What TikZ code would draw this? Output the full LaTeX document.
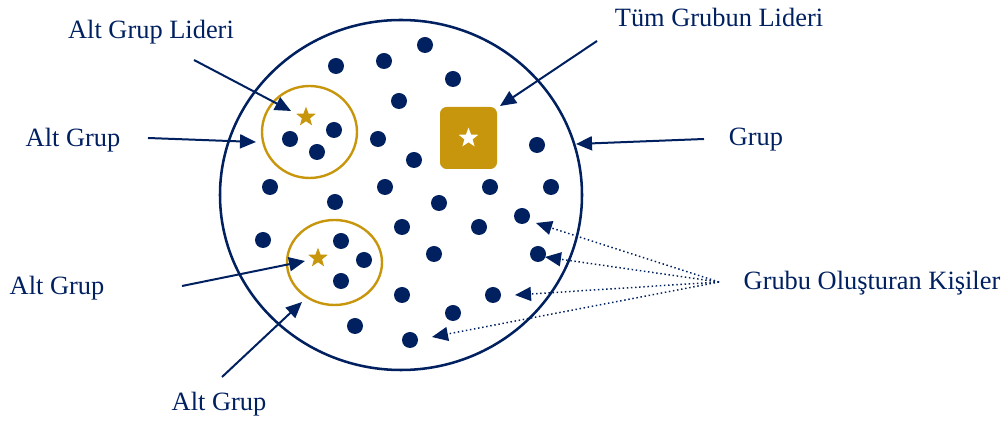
\documentclass[tikz,border=0pt]{standalone}
\usepackage{fontspec}
\setmainfont{Liberation Serif}
\usetikzlibrary{arrows.meta,shapes.geometric}
\definecolor{navy}{HTML}{002060}
\definecolor{gold}{HTML}{C8960C}
\tikzset{
  lbl/.style={text=navy,font=\fontsize{19.8}{24}\selectfont,inner sep=0pt},
  pointer/.style={draw=navy,line width=1.5pt,-{Triangle[length=12pt,width=10.5pt]}},
  dotpointer/.style={draw=navy,line width=1.1pt,dotted,-{Triangle[length=12pt,width=10.5pt]}},
  leaderstar/.style={star,star points=5,star point ratio=2.4,minimum size=15.5pt,inner sep=0pt}
}
\begin{document}
\begin{tikzpicture}[x=0.75pt,y=-0.75pt]
\useasboundingbox (0,0) rectangle (1008,423);
\draw[navy,line width=1.9pt] (401,195) ellipse [x radius=181,y radius=175];
\draw[gold,line width=1.8pt] (309.5,132) ellipse [x radius=47.5,y radius=46];
\draw[gold,line width=1.8pt] (334.5,262.5) ellipse [x radius=47.5,y radius=42.5];
\foreach \p in {(290,139),(334,130),(317,152),(341,241),(364,260),(341,281),
  (425,45),(384,61),(336,66),(453,79),(399,101),(378,139),(537,145),(414,160),
  (270,187),(385,187),(335,202),(439,203),(490,187),(551,187),(522,216),
  (402,227),(479,227),(263,240),(538,254),(434,254),(493,295),(402,295),
  (453,313),(355,326),(410,340)}
  \fill[navy] \p circle (6pt);
\node[fill=gold,rounded corners=5pt,minimum width=42.75pt,minimum height=46.5pt] (lider) at (468.5,138) {};
\node[leaderstar,fill=white] (lstar) at (lider) {};
\node[leaderstar,fill=gold] (s1) at (306,117) {};
\node[leaderstar,fill=gold] (s2) at (318,258) {};
\node[lbl] (tAGL) at (151,32) {Alt Grup Lideri};
\node[lbl] (tAG1) at (73,140) {Alt Grup};
\node[lbl] (tAG2) at (57,288) {Alt Grup};
\node[lbl] (tAG3) at (219,404) {Alt Grup};
\node[lbl] (tTGL) at (719,17) {Tüm Grubun Lideri};
\node[lbl] (tG) at (756,140) {Grup};
\node[lbl] (tK) at (872,283) {Grubu Oluşturan Kişiler};
\coordinate (a1) at (194,60);
\coordinate (b1) at (291,111);
\coordinate (a2) at (148,138);
\coordinate (b2) at (256,142);
\coordinate (a3) at (182,286);
\coordinate (b3) at (305,261);
\coordinate (a4) at (222,377);
\coordinate (b4) at (302,302);
\coordinate (a5) at (597,41);
\coordinate (b5) at (500,106);
\coordinate (a6) at (704,139);
\coordinate (b6) at (576,144);
\coordinate (K) at (719,282);
\coordinate (k1) at (536,223);
\coordinate (k2) at (545,257);
\coordinate (k3) at (515,295);
\coordinate (k4) at (432,337);
\draw[pointer] (a1)--(b1);
\draw[pointer] (a2)--(b2);
\draw[pointer] (a3)--(b3);
\draw[pointer] (a4)--(b4);
\draw[pointer] (a5)--(b5);
\draw[pointer] (a6)--(b6);
\foreach \k in {k1,k2,k3,k4}
  \draw[dotpointer] (K)--(\k);
\end{tikzpicture}
\end{document}
